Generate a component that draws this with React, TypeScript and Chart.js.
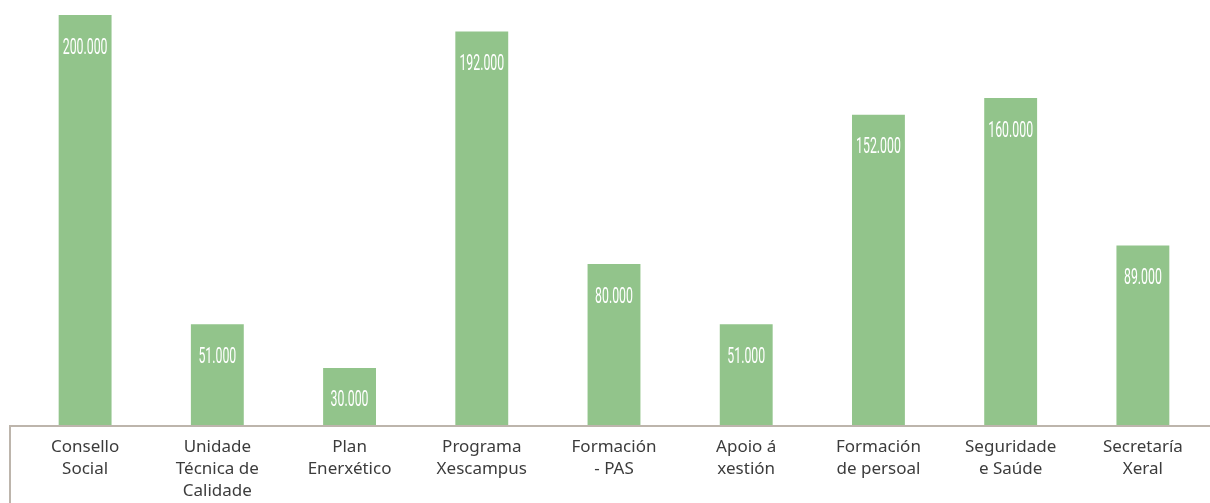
import React, { useEffect, useRef } from "react";
import { Chart, registerables } from "chart.js";

Chart.register(...registerables);

const categories: string[][] = [
  ["Consello", "Social"],
  ["Unidade", "Técnica de", "Calidade"],
  ["Plan", "Enerxético"],
  ["Programa", "Xescampus"],
  ["Formación", "- PAS"],
  ["Apoio á", "xestión"],
  ["Formación", "de persoal"],
  ["Seguridade", "e Saúde"],
  ["Secretaría", "Xeral"],
];

const amounts: number[] = [200000, 51000, 30000, 192000, 80000, 51000, 152000, 160000, 89000];

const BAR_COLOR = "#92C48B";
const AXIS_COLOR = "#BDB5AC";

const fmt = (v: number) => v.toLocaleString("de-DE");

const decorPlugin = {
  id: "decor",
  afterDatasetsDraw(chart: any) {
    const ctx = chart.ctx;
    const meta = chart.getDatasetMeta(0);
    ctx.save();
    ctx.fillStyle = "#ffffff";
    ctx.textAlign = "center";
    ctx.textBaseline = "middle";
    ctx.font = "22px Roboto";
    meta.data.forEach((bar: any, i: number) => {
      ctx.save();
      ctx.translate(bar.x, bar.y + 33);
      ctx.scale(0.56, 1);
      ctx.fillText(fmt(amounts[i]), 0, 0);
      ctx.restore();
    });
    ctx.restore();
  },
  afterDraw(chart: any) {
    const ctx = chart.ctx;
    const b = chart.chartArea.bottom;
    ctx.save();
    ctx.strokeStyle = AXIS_COLOR;
    ctx.lineWidth = 2;
    ctx.beginPath();
    ctx.moveTo(9, b + 1);
    ctx.lineTo(chart.width, b + 1);
    ctx.stroke();
    ctx.beginPath();
    ctx.moveTo(10, b);
    ctx.lineTo(10, chart.height);
    ctx.stroke();
    ctx.restore();
  },
};

export default function App() {
  const ref = useRef<HTMLCanvasElement>(null);
  useEffect(() => {
    if (!ref.current) return;
    const chart = new Chart(ref.current, {
      type: "bar",
      data: {
        labels: categories,
        datasets: [
          {
            data: amounts,
            backgroundColor: BAR_COLOR,
            borderWidth: 0,
            barPercentage: 0.4,
            categoryPercentage: 1,
          },
        ],
      },
      options: {
        animation: false,
        responsive: false,
        maintainAspectRatio: false,
        layout: { padding: { left: 19, right: 1, top: 15, bottom: 0 } },
        plugins: { legend: { display: false }, tooltip: { enabled: false } },
        scales: {
          x: {
            grid: { display: false, drawTicks: false },
            border: { display: false },
            ticks: {
              color: "#3c3c3c",
              font: { family: "'Noto Sans', sans-serif", size: 17, lineHeight: "22px" },
              padding: 11,
              maxRotation: 0,
              autoSkip: false,
            },
          },
          y: {
            display: false,
            min: 2500,
            max: 200000,
          },
        },
      },
      plugins: [decorPlugin],
    });
    return () => chart.destroy();
  }, []);
  return (
    <div style={{ position: "fixed", left: 0, top: 0, width: 1210, height: 503, overflow: "hidden", background: "#fff" }}>
      <canvas ref={ref} width={1210} height={513} style={{ display: "block" }} />
    </div>
  );
}
